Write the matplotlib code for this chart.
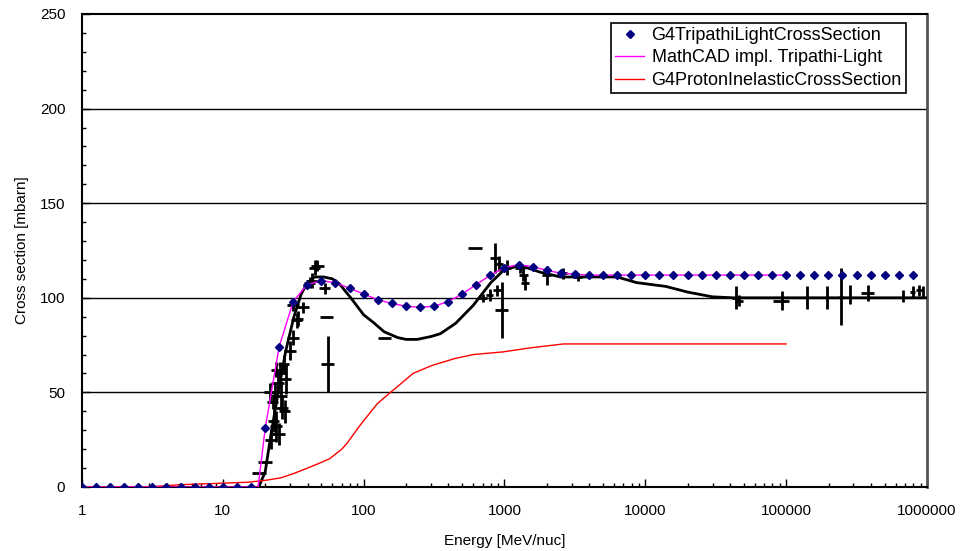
import matplotlib
matplotlib.use('Agg')
import matplotlib.pyplot as plt
from matplotlib.ticker import FixedLocator, NullFormatter, LogLocator

plt.rcParams['font.family'] = ['Liberation Sans', 'DejaVu Sans']

# G4TripathiLightCrossSection, sampled 10 points per decade
tripathi_e = [1, 1.26, 1.58, 2.0, 2.51, 3.16, 3.98, 5.01, 6.31, 7.94,
              10, 12.6, 15.8, 20.0, 25.1, 31.6, 39.8, 50.1, 63.1, 79.4,
              100, 126, 158, 200, 251, 316, 398, 501, 631, 794,
              1000, 1259, 1585, 1995, 2512, 3162, 3981, 5012, 6310, 7943,
              1e4, 12589, 15849, 19953, 25119, 31623, 39811, 50119, 63096, 79433,
              1e5, 125893, 158489, 199526, 251189, 316228, 398107, 501187, 630957, 794328]
tripathi_xs = [0, 0, 0, 0, 0, 0, 0, 0, 0, 0,
               0, 0, 0, 31, 74, 98, 107, 109, 108, 105,
               102, 99, 97, 95.5, 95, 95.5, 98, 102, 107, 112,
               116, 117.5, 116.5, 114.5, 113, 112.5, 112, 112, 112, 112,
               112, 112, 112, 112, 112, 112, 112, 112, 112, 112,
               112, 112, 112, 112, 112, 112, 112, 112, 112, 112]

# MathCAD implementation of the same model
mathcad_e = [1, 2.0, 5.01, 10, 15.8, 17.8, 20.0, 25.1, 31.6, 39.8, 50.1, 63.1, 79.4,
             100, 126, 158, 200, 251, 316, 398, 501, 631, 794,
             1000, 1259, 1585, 1995, 2512, 3162, 3981, 1e4, 1e5]
mathcad_xs = [0, 0, 0, 0, 0, 0, 31, 74, 98, 107, 109, 108, 105,
              102, 99, 97, 95.5, 95, 95.5, 98, 102, 107, 112,
              116, 117.5, 116.5, 114.5, 113, 112.5, 112, 112, 112]

# G4ProtonInelasticCrossSection
proton_e = [1, 2.9, 5, 10, 15, 20, 25.7, 31.6, 40, 49, 57.5, 70, 76, 93, 100,
            125, 155, 180, 224, 300, 347, 450, 603, 977, 1513, 2630, 1e5]
proton_xs = [0, 0, 1.2, 2, 2.5, 3.5, 4.8, 7, 10, 12.7, 15, 20, 23, 32, 35,
             44, 50, 54, 60, 64, 65.5, 68, 70, 71.4, 73.5, 75.6, 75.6]

# reference calculation (black curve)
calc_e = [18, 20, 22, 25, 28, 32, 36, 40, 45, 52, 60, 68, 75, 81, 100, 117, 140,
          174, 200, 240, 300, 350, 450, 600, 800, 1000, 1300, 1800, 2500, 6300,
          8700, 14000, 20000, 30000, 42000, 1e6]
calc_xs = [0, 8, 28, 52, 72, 90, 102, 108, 111, 111, 110, 107, 103, 100, 91, 87, 82,
           79, 78, 78, 79.5, 81, 86.5, 96, 108, 115, 117, 113.5, 111, 111,
           108, 106, 103, 100.5, 100, 100]

# measured points: energy, cross section, energy error, cross-section error
meas_e = [18.1, 20, 24, 22.6, 23.5, 24.5, 25.5, 26.5, 27, 28, 30, 31.5, 31.5, 33.5,
          34, 37, 41.5, 43, 45, 47, 53, 55, 55.5, 141, 617, 700, 785, 850, 890,
          920, 960, 1040, 1290, 1360, 1400, 2000, 2600, 3300, 44000, 46000, 93000,
          141000, 196000, 245000, 282000, 380000, 680000, 790000, 880000, 940000,
          22, 23, 25, 26, 27.5, 24, 21.5]
meas_xs = [7.4, 13, 32, 45, 50, 55, 60, 42, 65, 57, 72, 79, 96, 88,
           89, 95, 108, 109, 116, 117, 105, 90, 65, 79, 126.5, 100, 101.5, 121, 104,
           118, 93.5, 116, 116, 112, 108, 112, 113, 111, 100, 98.5, 98.5,
           100, 100, 100.5, 101.5, 102.5, 101, 103, 104, 103,
           25, 35, 28, 48, 40, 62, 50]
meas_de = [2.0, 2.2, 2.5, 2.0, 2.0, 2.5, 2.5, 2.5, 2.5, 2.5, 3, 3, 3, 3,
           3, 4, 4, 4, 4, 5, 5, 6, 6, 15, 70, 50, 50, 60, 60,
           50, 100, 80, 100, 100, 100, 150, 200, 250, 3000, 3000, 12000,
           0, 0, 8000, 0, 40000, 0, 30000, 50000, 0,
           2, 2, 2.5, 2.5, 2.5, 2, 2]
meas_dxs = [0, 0, 8, 4, 5, 5, 6, 6, 5, 8, 5, 4, 3, 4,
            4, 3, 3, 4, 4, 3, 3, 0, 15, 0, 0, 2, 3, 8, 3,
            4, 15, 4, 3, 3, 4, 5, 3, 2, 6, 3, 5,
            6, 6, 15, 5, 4, 3, 3, 3, 3,
            5, 6, 6, 8, 6, 4, 5]

fig = plt.figure(figsize=(9.61, 5.51), dpi=100)
ax = fig.add_axes([0.0853, 0.1162, 0.8793, 0.8584])

ax.set_xscale('log')
ax.set_xlim(1, 1e6)
ax.set_ylim(0, 250)

for yv in [50, 100, 150, 200]:
    ax.axhline(yv, color='black', linewidth=1.0, zorder=1)

ax.plot(calc_e, calc_xs, color='black', linewidth=2.0, zorder=3)
ax.errorbar(meas_e, meas_xs, xerr=meas_de, yerr=meas_dxs, fmt='none',
            ecolor='black', elinewidth=2.0, capsize=0, zorder=4)
ax.plot(proton_e, proton_xs, color='#FF0000', linewidth=1.0, zorder=5,
        label='G4ProtonInelasticCrossSection')
ax.plot(mathcad_e, mathcad_xs, color='#FF00FF', linewidth=1.0, zorder=5,
        label='MathCAD impl. Tripathi-Light')
ax.plot(tripathi_e, tripathi_xs, linestyle='none', marker='D', markersize=4.5,
        color='#000080', zorder=6, label='G4TripathiLightCrossSection')

ax.xaxis.set_major_locator(FixedLocator([1, 10, 100, 1000, 1e4, 1e5, 1e6]))
ax.set_xticklabels(['1', '10', '100', '1000', '10000', '100000', '1000000'])
ax.xaxis.set_minor_locator(LogLocator(base=10, subs=range(2, 10)))
ax.xaxis.set_minor_formatter(NullFormatter())
ax.set_yticks([0, 50, 100, 150, 200, 250])
ax.set_yticks(range(0, 251, 10), minor=True)

ax.tick_params(axis='both', which='major', direction='in', length=6, width=1,
               labelsize=11, pad=12)
ax.tick_params(axis='both', which='minor', direction='in', length=3, width=1)

for side in ['left', 'bottom', 'top']:
    ax.spines[side].set_linewidth(1.5)
    ax.spines[side].set_color('black')
ax.spines['right'].set_linewidth(2.0)
ax.spines['right'].set_color('#555555')

ax.set_xlabel('Energy [MeV/nuc]', fontsize=11, labelpad=12)
ax.set_ylabel('Cross section [mbarn]', fontsize=11, labelpad=8)

handles, labels = ax.get_legend_handles_labels()
order = [2, 1, 0]
leg = ax.legend([handles[i] for i in order], [labels[i] for i in order],
                loc='upper right', bbox_to_anchor=(0.9755, 0.982), fontsize=13,
                frameon=True, fancybox=False, edgecolor='black', framealpha=1,
                handlelength=1.6, handletextpad=0.4, borderpad=0.25,
                borderaxespad=0, labelspacing=0.3, markerscale=1.0)
leg.get_frame().set_linewidth(1.2)

fig.savefig('out.png', dpi=100)
